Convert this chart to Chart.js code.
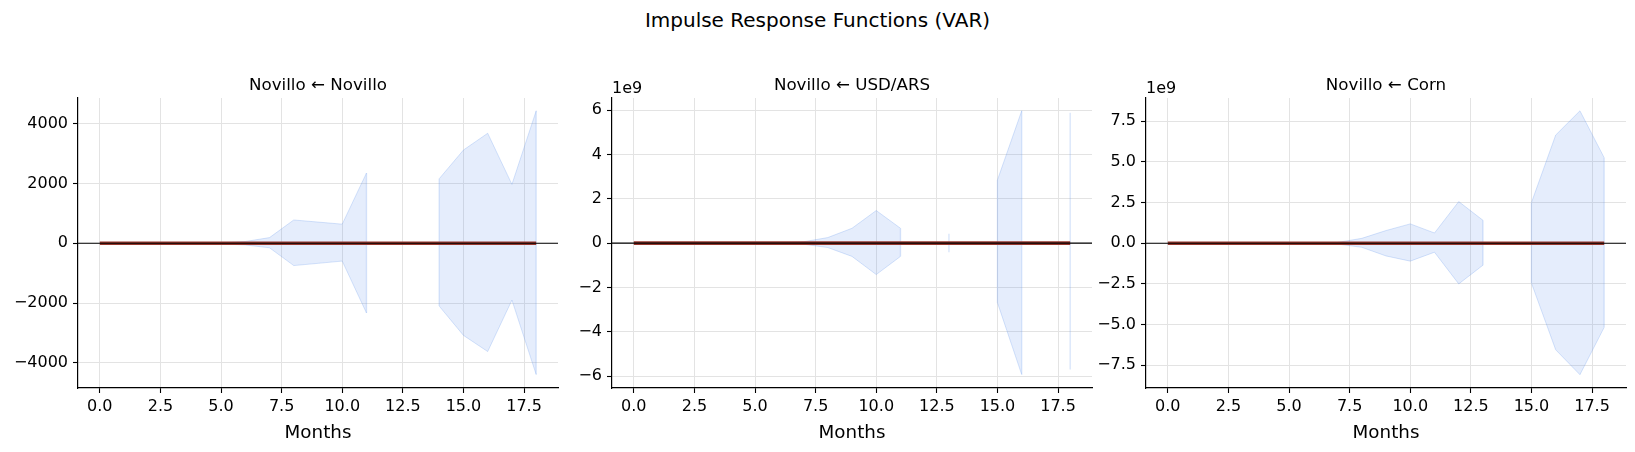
<!DOCTYPE html>
<html lang="en">
<head>
<meta charset="UTF-8" />
<title>Impulse Response Functions (VAR)</title>
<script src="https://cdn.jsdelivr.net/npm/chart.js"></script>
<style>
  body {
    margin: 0;
    background: #fff;
    width: 1635px;
    height: 452px;
    position: relative;
    overflow: hidden;
    font-family: "DejaVu Sans", sans-serif;
  }
  .suptitle {
    position: absolute;
    left: 0;
    width: 1635px;
    top: 10px;
    text-align: center;
    font-size: 20px;
    line-height: 1;
    color: #000;
  }
  .panel { position: absolute; top: 0; height: 452px; }
</style>
</head>
<body>
<div class="suptitle">Impulse Response Functions (VAR)</div>
<div class="panel" style="left:0;width:570px"><canvas id="c1" width="570" height="452"></canvas></div>
<div class="panel" style="left:540px;width:565px"><canvas id="c2" width="565" height="452"></canvas></div>
<div class="panel" style="left:1074px;width:561px"><canvas id="c3" width="561" height="452"></canvas></div>

<script>
// horizon (months)
const months = [0, 1, 2, 3, 4, 5, 6, 7, 8, 9, 10, 11, 12, 13, 14, 15, 16, 17, 18];
const xTicks = [0, 2.5, 5, 7.5, 10, 12.5, 15, 17.5];

// Novillo <- Novillo
const irfNov = [0, 0, 0, 0, 0, 0, 0, 0, 0, 0, 0, 0, 0, 0, 0, 0, 0, 0, 0];
const upNov = [0, 1, 2, 4, 8, 20, 60, 190, 780, 710, 640, 2350, null, null, 2160, 3120, 3680, 1970, 4430];
const loNov = [0, -1, -2, -4, -8, -20, -55, -150, -745, -670, -595, -2330, null, null, -2100, -3080, -3620, -1900, -4390];
const yTicksNov = [-4000, -2000, 0, 2000, 4000];

// Novillo <- USD/ARS
const irfUsd = [0, 0, 0, 0, 0, 0, 0, 0, 0, 0, 0, 0, 0, 0, 0, 0, 0, 0, 0];
const upUsd = [0, 0, 0, 0, 0.001e9, 0.004e9, 0.015e9, 0.06e9, 0.25e9, 0.67e9, 1.47e9, 0.67e9, null, 0.42e9, null, 2.85e9, 5.97e9, null, 5.88e9];
const loUsd = [0, 0, 0, 0, -0.001e9, -0.004e9, -0.015e9, -0.05e9, -0.2e9, -0.6e9, -1.42e9, -0.6e9, null, -0.41e9, null, -2.69e9, -5.93e9, null, -5.7e9];
const yTicksUsd = [-6e9, -4e9, -2e9, 0, 2e9, 4e9, 6e9];

// Novillo <- Corn
const irfCorn = [0, 0, 0, 0, 0, 0, 0, 0, 0, 0, 0, 0, 0, 0, 0, 0, 0, 0, 0];
const upCorn = [0, 0, 0, 0, 0.001e9, 0.004e9, 0.015e9, 0.05e9, 0.3e9, 0.78e9, 1.19e9, 0.63e9, 2.56e9, 1.41e9, null, 2.5e9, 6.65e9, 8.14e9, 5.26e9];
const loCorn = [0, 0, 0, 0, -0.001e9, -0.004e9, -0.015e9, -0.05e9, -0.25e9, -0.78e9, -1.1e9, -0.55e9, -2.5e9, -1.35e9, null, -2.45e9, -6.55e9, -8.08e9, -5.17e9];
const yTicksCorn = [-7.5e9, -5e9, -2.5e9, 0, 2.5e9, 5e9, 7.5e9];

const FONT = '"DejaVu Sans", sans-serif';
const bandFill = 'rgba(100, 149, 237, 0.17)';
const bandEdge = 'rgba(100, 149, 237, 0.26)';
const gridColor = '#e3e3e3';

function pts(arr) {
  return months.map((m, i) => ({ x: m, y: arr[i] }));
}

function fmt(v, div, dec) {
  const s = (v / div).toFixed(dec);
  return s.replace('-', '\u2212');
}

// titles, x label and offset text
const panelText = {
  id: 'panelText',
  afterDraw(chart, args, opts) {
    const { ctx, chartArea: a } = chart;
    const cx = (a.left + a.right) / 2;
    ctx.save();
    ctx.fillStyle = '#000';
    ctx.textBaseline = 'alphabetic';
    ctx.textAlign = 'center';
    ctx.font = '16.7px ' + FONT;
    ctx.fillText(opts.title, cx, 90);
    ctx.font = '18.3px ' + FONT;
    ctx.fillText('Months', cx, 438);
    if (opts.offset) {
      ctx.textAlign = 'left';
      ctx.font = '16px ' + FONT;
      ctx.fillText(opts.offset, a.left, 93);
    }
    ctx.restore();
  }
};

// vertical edges of the band where it starts / stops
const bandEdges = {
  id: 'bandEdges',
  beforeDatasetDraw(chart, args) {
    if (args.index !== 0) return;
    const up = chart.data.datasets[1].data;
    const lo = chart.data.datasets[2].data;
    const xs = chart.scales.x, ys = chart.scales.y;
    const ctx = chart.ctx;
    ctx.save();
    ctx.strokeStyle = bandEdge;
    ctx.lineWidth = 1.3;
    for (let i = 0; i < up.length; i++) {
      if (up[i].y == null) continue;
      const prev = i > 0 ? up[i - 1].y : null;
      const next = i < up.length - 1 ? up[i + 1].y : null;
      if (prev != null && next != null) continue;
      const px = xs.getPixelForValue(up[i].x);
      ctx.beginPath();
      ctx.moveTo(px, ys.getPixelForValue(up[i].y));
      ctx.lineTo(px, ys.getPixelForValue(lo[i].y));
      ctx.stroke();
    }
    ctx.restore();
  }
};

// black zero line across the axes
const zeroLine = {
  id: 'zeroLine',
  afterDatasetsDraw(chart) {
    const { ctx, chartArea: a } = chart;
    const y = chart.scales.y.getPixelForValue(0);
    ctx.save();
    ctx.strokeStyle = '#000';
    ctx.lineWidth = 1.1;
    ctx.beginPath();
    ctx.moveTo(a.left, y);
    ctx.lineTo(a.right, y);
    ctx.stroke();
    ctx.restore();
  }
};

function makePanel(id, cfg) {
  new Chart(document.getElementById(id), {
    type: 'line',
    data: {
      datasets: [
        { data: pts(cfg.irf), borderColor: 'rgb(150, 55, 45)', borderWidth: 3.6, pointRadius: 0, fill: false },
        { data: pts(cfg.up), borderColor: bandEdge, borderWidth: 1, backgroundColor: bandFill, pointRadius: 0, fill: '+1', spanGaps: false },
        { data: pts(cfg.lo), borderColor: bandEdge, borderWidth: 1, pointRadius: 0, fill: false, spanGaps: false }
      ]
    },
    options: {
      responsive: false,
      animation: false,
      layout: { padding: { top: 98, right: cfg.padRight, left: 0, bottom: 0 } },
      plugins: {
        legend: { display: false },
        tooltip: { enabled: false },
        panelText: { title: cfg.title, offset: cfg.offset }
      },
      scales: {
        x: {
          type: 'linear',
          min: -0.9,
          max: 18.9,
          afterBuildTicks: (ax) => { ax.ticks = xTicks.map(v => ({ value: v })); },
          afterFit: (ax) => { ax.height = 64; },
          ticks: {
            color: '#000',
            font: { family: FONT, size: 16 },
            padding: 4,
            maxRotation: 0,
            autoSkip: false,
            callback: (v) => v.toFixed(1)
          },
          grid: { color: gridColor, lineWidth: 1, tickLength: 5, tickColor: '#000', tickWidth: 1.1 },
          border: { display: true, color: '#000', width: 1.2 }
        },
        y: {
          type: 'linear',
          min: cfg.ymin,
          max: cfg.ymax,
          afterBuildTicks: (ax) => { ax.ticks = cfg.yTicks.map(v => ({ value: v })); },
          afterFit: (ax) => { ax.width = cfg.axisW; },
          ticks: {
            color: '#000',
            font: { family: FONT, size: 16 },
            padding: 5,
            autoSkip: false,
            callback: (v) => fmt(v, cfg.div, cfg.dec)
          },
          grid: { color: gridColor, lineWidth: 1, tickLength: 5, tickColor: '#000', tickWidth: 1.1 },
          border: { display: true, color: '#000', width: 1.2 }
        }
      }
    },
    plugins: [bandEdges, zeroLine, panelText]
  });
}

makePanel('c1', {
  title: 'Novillo \u2190 Novillo', offset: null,
  irf: irfNov, up: upNov, lo: loNov, yTicks: yTicksNov,
  ymin: -4840, ymax: 4860, div: 1, dec: 0, axisW: 78, padRight: 12
});
makePanel('c2', {
  title: 'Novillo \u2190 USD/ARS', offset: '1e9',
  irf: irfUsd, up: upUsd, lo: loUsd, yTicks: yTicksUsd,
  ymin: -6.54e9, ymax: 6.55e9, div: 1e9, dec: 0, axisW: 72, padRight: 13
});
makePanel('c3', {
  title: 'Novillo \u2190 Corn', offset: '1e9',
  irf: irfCorn, up: upCorn, lo: loCorn, yTicks: yTicksCorn,
  ymin: -8.9e9, ymax: 8.93e9, div: 1e9, dec: 1, axisW: 72, padRight: 9
});
</script>
</body>
</html>
